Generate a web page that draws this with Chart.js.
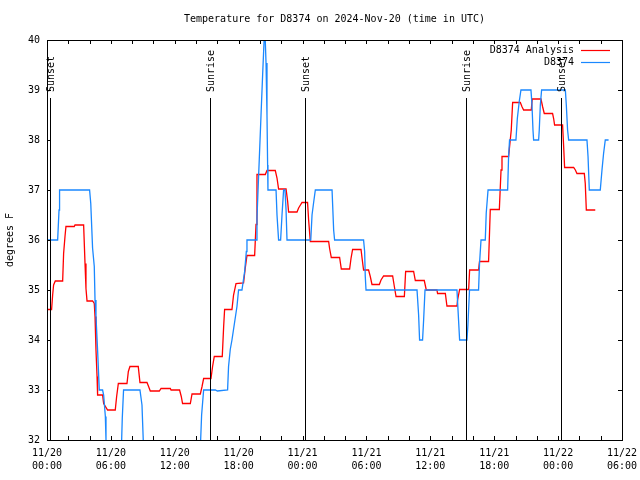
<!DOCTYPE html>
<html>
<head>
<meta charset="utf-8">
<script src="https://cdn.jsdelivr.net/npm/chart.js@4/dist/chart.umd.min.js"></script>
<style>html,body{margin:0;padding:0;background:#fff;}canvas{display:block;}</style>
</head>
<body>
<canvas id="c" width="640" height="480"></canvas>
<script>
// Hours since 2024-11-20 00:00 UTC
const analysisHours = [0.00,0.43,0.53,0.62,0.78,1.47,1.56,1.69,1.78,2.56,2.63,3.44,3.57,3.66,3.76,4.28,4.44,4.51,4.60,4.70,4.75,5.22,5.32,5.69,6.41,6.54,6.70,7.51,7.64,7.79,8.57,8.73,9.39,9.54,9.70,10.55,10.71,11.58,11.65,12.45,12.61,12.73,13.46,13.62,14.40,14.56,14.71,15.40,15.55,15.71,16.46,16.59,16.68,17.37,17.52,17.75,18.46,18.62,18.78,19.50,19.63,19.72,20.50,20.66,21.44,21.60,21.75,22.45,22.60,22.69,23.48,23.63,23.95,24.47,24.57,24.73,26.45,26.54,26.70,27.48,27.64,28.42,28.55,28.70,29.49,29.61,29.73,30.20,30.36,30.52,31.21,31.37,31.61,32.46,32.62,32.78,33.56,33.68,34.43,34.59,35.43,35.62,36.62,36.68,37.41,37.56,38.50,38.56,38.75,39.60,39.69,40.53,40.62,41.47,41.63,42.48,42.64,42.73,43.35,43.60,43.73,44.45,44.60,44.76,45.48,45.57,46.39,46.54,46.70,47.48,47.58,47.67,48.42,48.52,48.61,49.46,49.62,49.77,50.46,50.55,50.65,51.49];
const analysisTemps = [34.61,34.61,34.90,35.10,35.18,35.18,35.73,36.07,36.27,36.27,36.30,36.30,35.53,35.03,34.78,34.78,34.73,34.47,33.80,33.27,32.90,32.90,32.73,32.60,32.60,32.87,33.13,33.13,33.37,33.47,33.47,33.15,33.15,33.07,32.98,32.98,33.03,33.03,33.00,33.00,32.87,32.73,32.73,32.92,32.92,33.07,33.23,33.23,33.47,33.67,33.67,34.27,34.61,34.61,34.90,35.13,35.14,35.44,35.69,35.69,36.31,37.31,37.31,37.39,37.39,37.24,37.02,37.02,36.77,36.56,36.56,36.64,36.75,36.75,36.40,35.97,35.97,35.83,35.65,35.65,35.42,35.42,35.63,35.81,35.81,35.60,35.40,35.40,35.27,35.11,35.11,35.20,35.28,35.28,35.07,34.87,34.87,35.37,35.37,35.19,35.19,35.00,35.00,34.93,34.93,34.68,34.68,34.80,35.01,35.01,35.40,35.40,35.57,35.57,36.61,36.61,37.40,37.67,37.67,38.20,38.75,38.75,38.67,38.60,38.60,38.82,38.82,38.67,38.53,38.53,38.43,38.30,38.30,37.87,37.45,37.45,37.40,37.33,37.33,37.13,36.60,36.60];

const stationHours = [0.00,1.00,1.13,1.18,4.00,4.11,4.28,4.44,4.51,4.60,4.75,4.91,5.22,5.32,5.48,5.54,5.63,6.91,7.01,7.07,7.19,8.73,8.92,9.04,9.14,14.33,14.43,14.52,14.71,15.81,16.00,16.96,17.05,17.21,17.37,17.84,17.99,18.31,18.56,18.72,18.78,19.63,19.72,19.82,19.94,20.10,20.25,20.45,20.57,20.66,20.72,20.75,21.51,21.60,21.75,21.94,22.07,22.22,22.35,22.45,22.54,24.77,24.89,25.04,25.20,26.77,26.92,27.01,29.73,29.83,29.89,29.96,34.75,34.90,34.99,35.27,35.37,35.50,38.50,38.60,38.75,39.44,39.53,39.68,40.53,40.62,40.76,41.16,41.25,41.42,43.26,43.35,43.44,44.04,44.17,44.35,44.51,45.45,45.54,45.64,45.70,46.17,46.23,46.33,46.45,48.68,48.77,48.89,48.99,50.71,50.81,50.93,51.96,52.12,52.27,52.43,52.74];
const stationTemps = [36,36,36.6,37,37,36.73,35.84,35.47,34.8,34.47,33.8,33,33,32.9,32.47,32,31,31,32,32.44,33,33,32.7,32,31,31,32,32.5,33,33,32.98,33,33.47,33.81,34,34.67,35,35,35.37,35.77,36,36,36.44,37,37.64,38.5,39.3,40.3,39.54,38.5,37.5,37,37,36.5,36,36,36.5,37,37,36.6,36,36,36.5,36.75,37,37,36.2,36,36,35.77,35.27,35,35,34.5,34,34,34.4,35,35,34.6,34,34,34.3,35,35,35.53,36,36,36.54,37,37,37.67,38,38,38.43,38.77,39,39,38.73,38.2,38,38,38.2,38.7,39,39,38.7,38.2,38,38,37.67,37,37,37.4,37.73,38,38];

const sunEventHours = [0.24, 15.31, 24.19, 39.32, 48.24];
const sunEventNames = ['Sunset', 'Sunrise', 'Sunset', 'Sunrise', 'Sunset'];

const tickDates = ['11/20','11/20','11/20','11/20','11/21','11/21','11/21','11/21','11/22','11/22'];
const tickTimes = ['00:00','06:00','12:00','18:00','00:00','06:00','12:00','18:00','00:00','06:00'];

const seriesNames = ['D8374 Analysis', 'D8374'];
const seriesColors = ['#ff0000', '#1a88ff'];
const chartTitle = 'Temperature for D8374 on 2024-Nov-20 (time in UTC)';

const FONT = "'DejaVu Sans Mono', 'Liberation Mono', monospace";

const toPoints = (hs, vs) => hs.map((h, i) => ({x: h, y: vs[i]}));

const framePlugin = {
  id: 'frame',
  afterDatasetsDraw(chart) {
    const {ctx, chartArea: a, scales: {x, y}} = chart;
    ctx.save();
    ctx.strokeStyle = '#000';
    ctx.lineWidth = 1;
    ctx.fillStyle = '#000';
    ctx.font = '10px ' + FONT;
    // title centred over plot area
    ctx.textAlign = 'center';
    ctx.textBaseline = 'middle';
    ctx.fillText(chartTitle, (a.left + a.right) / 2, 19);
    // sunrise / sunset lines
    sunEventHours.forEach((h, i) => {
      const px = Math.round(x.getPixelForValue(h)) + 0.5;
      ctx.beginPath();
      ctx.moveTo(px, a.top + 58);
      ctx.lineTo(px, a.bottom);
      ctx.stroke();
      ctx.save();
      ctx.translate(px + 0.5, a.top + 52);
      ctx.rotate(-Math.PI / 2);
      ctx.textAlign = 'left';
      ctx.textBaseline = 'middle';
      ctx.fillText(sunEventNames[i], 0, 0);
      ctx.restore();
    });
    // frame
    ctx.strokeRect(Math.round(a.left) + 0.5, Math.round(a.top) + 0.5,
                   Math.round(a.right - a.left), Math.round(a.bottom - a.top));
    // inward ticks
    const L = 4;
    x.ticks.forEach(t => {
      const px = Math.round(x.getPixelForValue(t.value)) + 0.5;
      ctx.beginPath();
      ctx.moveTo(px, a.bottom); ctx.lineTo(px, a.bottom - L);
      ctx.moveTo(px, a.top); ctx.lineTo(px, a.top + L);
      ctx.stroke();
    });
    y.ticks.forEach(t => {
      const py = Math.round(y.getPixelForValue(t.value)) + 0.5;
      ctx.beginPath();
      ctx.moveTo(a.left, py); ctx.lineTo(a.left + L, py);
      ctx.moveTo(a.right, py); ctx.lineTo(a.right - L, py);
      ctx.stroke();
    });
    // legend
    ctx.textAlign = 'right';
    ctx.textBaseline = 'middle';
    seriesNames.forEach((n, i) => {
      const ty = a.top + 10 + i * 12;
      ctx.fillStyle = '#000';
      ctx.fillText(n, a.right - 48, ty);
      ctx.strokeStyle = seriesColors[i];
      ctx.lineWidth = 1.2;
      ctx.beginPath();
      ctx.moveTo(a.right - 41, ty + 0.5);
      ctx.lineTo(a.right - 12, ty + 0.5);
      ctx.stroke();
    });
    ctx.restore();
  }
};

new Chart(document.getElementById('c'), {
  type: 'line',
  data: {
    datasets: [
      {
        label: seriesNames[1],
        data: toPoints(stationHours, stationTemps),
        borderColor: seriesColors[1],
        borderWidth: 1.3,
        pointRadius: 0,
        tension: 0,
        fill: false
      },
      {
        label: seriesNames[0],
        data: toPoints(analysisHours, analysisTemps),
        borderColor: seriesColors[0],
        borderWidth: 1.3,
        pointRadius: 0,
        tension: 0,
        fill: false
      }
    ]
  },
  options: {
    responsive: false,
    animation: false,
    layout: {padding: {left: 0, right: 18, top: 40, bottom: 0}},
    plugins: {
      legend: {display: false},
      tooltip: {enabled: false},
      title: {display: false}
    },
    scales: {
      x: {
        type: 'linear',
        min: 0,
        max: 54,
        grid: {display: false, drawTicks: false},
        border: {display: false},
        afterFit(s) { s.height = 40; s.paddingLeft = 0; s.paddingRight = 0; },
        ticks: {
          stepSize: 2,
          autoSkip: false,
          maxRotation: 0,
          padding: 7,
          color: '#000',
          font: {family: FONT, size: 10, lineHeight: 1.3},
          callback(v) {
            if (v % 6 !== 0) return '';
            const k = v / 6;
            return [tickDates[k], tickTimes[k]];
          }
        }
      },
      y: {
        min: 32,
        max: 40,
        grid: {display: false, drawTicks: false},
        border: {display: false},
        afterFit(s) { s.width = 47; s.paddingTop = 0; s.paddingBottom = 0; },
        title: {
          display: true,
          text: 'degrees F',
          color: '#000',
          font: {family: FONT, size: 10},
          padding: {top: 4, bottom: 0}
        },
        ticks: {
          stepSize: 1,
          padding: 7,
          color: '#000',
          font: {family: FONT, size: 10}
        }
      }
    }
  },
  plugins: [framePlugin]
});
</script>
</body>
</html>
